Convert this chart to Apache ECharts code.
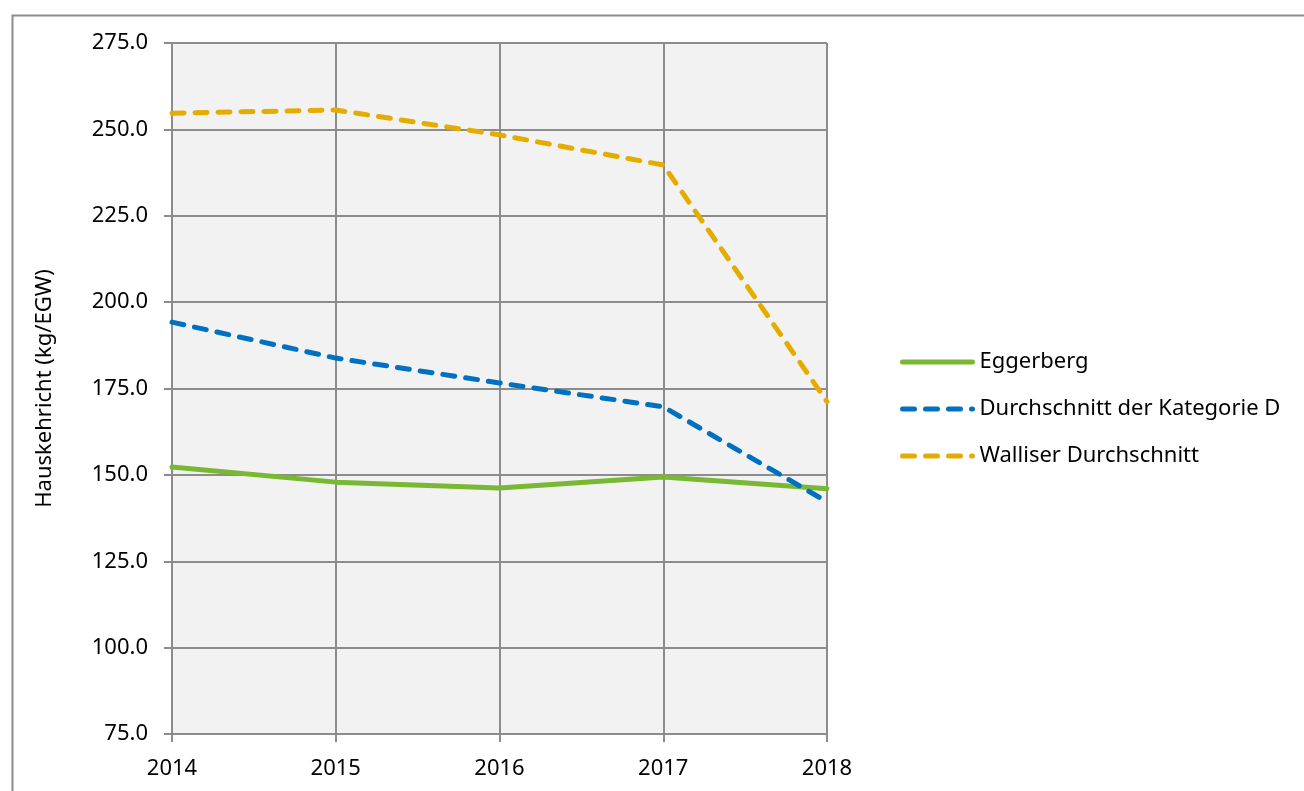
<!DOCTYPE html>
<html>
<head>
<meta charset="utf-8">
<script src="https://cdn.jsdelivr.net/npm/echarts@6/dist/echarts.min.js"></script>
<style>
html,body{margin:0;padding:0;background:#fff;}
#chart{width:1304px;height:791px;}
</style>
</head>
<body>
<div id="chart"></div>
<script>
const years = ['2014', '2015', '2016', '2017', '2018'];
const eggerberg = [152.3, 147.9, 146.2, 149.4, 146.0];
const kategorieD = [194.2, 183.8, 176.6, 169.7, 142.2];
const wallis = [254.7, 255.6, 248.4, 239.7, 171.2];
const seriesNames = ['Eggerberg', 'Durchschnitt der Kategorie D', 'Walliser Durchschnitt'];
const yAxisTitle = 'Hauskehricht (kg/EGW)';

const FONT = 'Noto Sans';
const FS = 22;
const gridColor = '#8c8c8c';
const chart = echarts.init(document.getElementById('chart'), null, {renderer: 'canvas'});
chart.setOption({
  backgroundColor: '#ffffff',
  animation: false,
  graphic: [{
    type: 'rect', left: 10, top: 13, z: -10,
    shape: {width: 1320, height: 820},
    style: {fill: 'none', stroke: '#8c8c8c', lineWidth: 2}
  }],
  grid: {
    left: 172, top: 43, right: 477, bottom: 57,
    show: true, backgroundColor: '#f2f2f2', borderWidth: 0
  },
  legend: {
    orient: 'vertical',
    left: 895, top: 345,
    itemWidth: 70, itemHeight: 24, itemGap: 23,
    itemStyle: {opacity: 0},
    lineStyle: {width: 5, cap: 'round'},
    textStyle: {fontFamily: FONT, fontSize: FS, lineHeight: 24, color: '#000', padding: [0, 0, 0, 2]},
    data: seriesNames
  },
  xAxis: {
    type: 'category',
    data: years,
    boundaryGap: false,
    axisLine: {show: true, lineStyle: {color: gridColor, width: 2}},
    axisTick: {show: true, length: 8, lineStyle: {color: gridColor, width: 2}},
    axisLabel: {fontFamily: FONT, fontSize: FS, color: '#000', margin: 24},
    splitLine: {show: true, lineStyle: {color: gridColor, width: 2}}
  },
  yAxis: {
    type: 'value',
    min: 75, max: 275, interval: 25,
    name: yAxisTitle,
    nameLocation: 'middle',
    nameGap: 116,
    nameRotate: 90,
    nameTextStyle: {fontFamily: FONT, fontSize: FS, color: '#000'},
    axisLine: {show: true, lineStyle: {color: gridColor, width: 2}},
    axisTick: {show: true, length: 8, lineStyle: {color: gridColor, width: 2}},
    axisLabel: {fontFamily: FONT, fontSize: FS, color: '#000', margin: 24,
      formatter: v => v.toFixed(1)},
    splitLine: {show: true, lineStyle: {color: gridColor, width: 2}}
  },
  series: [
    {name: seriesNames[0], type: 'line', data: eggerberg, symbol: 'none', z: 3,
      lineStyle: {color: '#78b832', width: 5, cap: 'round'}, itemStyle: {color: '#78b832'}},
    {name: seriesNames[1], type: 'line', data: kategorieD, symbol: 'none', z: 4,
      lineStyle: {color: '#0070c0', width: 5, type: [12, 11], cap: 'round'}, itemStyle: {color: '#0070c0'}},
    {name: seriesNames[2], type: 'line', data: wallis, symbol: 'none', z: 5,
      lineStyle: {color: '#e5ac00', width: 5, type: [12, 11], cap: 'round'}, itemStyle: {color: '#e5ac00'}}
  ]
});
</script>
</body>
</html>
